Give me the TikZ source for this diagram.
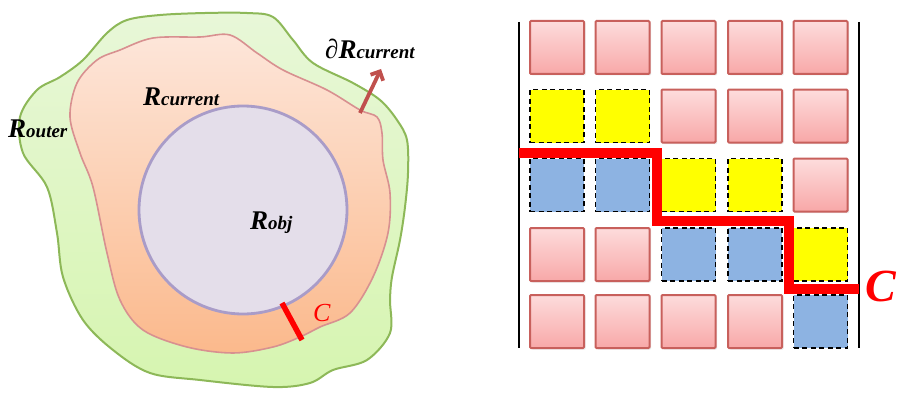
\documentclass[tikz,border=0pt]{standalone}
\usepackage{fontspec}
\setmainfont{Liberation Serif}
\usetikzlibrary{arrows.meta,shadows}
\definecolor{grnline}{HTML}{8DB858}
\definecolor{grntop}{HTML}{E8F7D8}
\definecolor{grnbot}{HTML}{D6F5B0}
\definecolor{pkline}{HTML}{D89090}
\definecolor{pktop}{HTML}{FDE6DA}
\definecolor{pkbot}{HTML}{FBB98C}
\definecolor{objfill}{HTML}{E4DEEA}
\definecolor{objline}{HTML}{A99CC8}
\definecolor{arrowred}{HTML}{C0504D}
\definecolor{sqline}{HTML}{C8605C}
\definecolor{sqtop}{HTML}{FDDCDC}
\definecolor{sqbot}{HTML}{F8A8A8}
\definecolor{sqyel}{HTML}{FFFF00}
\definecolor{sqblue}{HTML}{8DB3E2}
\definecolor{cred}{HTML}{FF0000}
\tikzset{
  lbl/.style={anchor=base west, inner sep=0pt, font=\bfseries\itshape},
  pinkbox/.style={minimum width=54pt, minimum height=53pt, inner sep=0pt, rounded corners=1pt,
     draw=sqline, line width=2pt, top color=sqtop, bottom color=sqbot,
     drop shadow={opacity=0.18, shadow xshift=1.5pt, shadow yshift=-1.5pt}},
  yelbox/.style={minimum width=54pt, minimum height=53pt, inner sep=0pt,
     draw=black, line width=1.8pt, dash pattern=on 5pt off 3.5pt, fill=sqyel},
  bluebox/.style={minimum width=54pt, minimum height=53pt, inner sep=0pt,
     draw=black, line width=1.8pt, dash pattern=on 5pt off 3.5pt, fill=sqblue},
}
\newcommand{\Rsub}[1]{{\fontsize{27}{27}\selectfont R}{\fontsize{19}{19}\selectfont #1}}
\begin{document}
\begin{tikzpicture}[x=1pt,y=-1pt]
\useasboundingbox (0,0) rectangle (897,396);
% outer region
\path[draw=grnline, line width=2pt, top color=grntop, bottom color=grnbot]
  plot[smooth cycle, tension=0.55] coordinates {
  (127,20) (160,15) (205,13) (247,13) (273,17) (293,40) (313,63) (353,83) (380,100)
  (397,120) (407,140) (408,173) (405,207) (400,240) (392,277) (390,300) (390,333)
  (367,360) (333,370) (310,383) (273,387) (200,380) (150,373) (113,350) (83,320)
  (63,277) (57,233) (47,187) (23,153) (20,117) (37,90) (60,77) (83,60) (107,33)};
% current region
\path[draw=pkline, line width=1.6pt, top color=pktop, bottom color=pkbot]
  plot[smooth cycle, tension=0.55] coordinates {
  (97,60) (120,50) (153,38) (200,37) (230,35) (257,53) (283,70) (327,90) (360,110)
  (377,117) (382,133) (383,160) (390,193) (388,233) (373,277) (350,313) (320,327)
  (300,337) (273,347) (233,353) (187,347) (143,330) (120,300) (107,253) (93,187)
  (80,153) (70,117) (77,83)};
% object
\node[circle, minimum size=208pt, inner sep=0pt, draw=objline, line width=2.8pt, fill=objfill] (obj) at (243,210) {};
% boundary cut C
\coordinate (c1) at (282,303);
\coordinate (c2) at (302,340);
\draw[cred, line width=5.5pt] (c1) -- (c2);
% outward arrow
\coordinate (a1) at (360,113);
\coordinate (a2) at (381,69);
\draw[arrowred, line width=3.8pt, -{Straight Barb[length=7pt,width=14pt]}] (a1) -- (a2);
% labels
\node[lbl] (router) at (8,137) {\Rsub{outer}};
\node[lbl] (rcur) at (143,105) {\Rsub{current}};
\node[lbl] (robj) at (250,229) {\Rsub{obj}};
\node[lbl] (drcur) at (325,59) {{\fontsize{27}{27}\selectfont\mdseries\itshape ∂}\Rsub{current}};
\node[anchor=base west, inner sep=0pt, text=cred, font=\itshape\fontsize{26}{26}\selectfont] (cleft) at (313,321) {C};

% right figure: walls
\coordinate (wl1) at (519,22);
\coordinate (wl2) at (519,348);
\coordinate (wr1) at (859,22);
\coordinate (wr2) at (859,348);
\draw[black, line width=1.6pt] (wl1) -- (wl2);
\draw[black, line width=1.2pt] (wr1) -- (wr2);
% squares
\def\cA{557} \def\cB{622.5} \def\cC{688.5} \def\cD{755} \def\cE{820.5}
\def\rA{47.5} \def\rB{116} \def\rC{185} \def\rD{254.5} \def\rE{321.5}
% row 1
\node[pinkbox] (s11) at (\cA,\rA) {};
\node[pinkbox] (s12) at (\cB,\rA) {};
\node[pinkbox] (s13) at (\cC,\rA) {};
\node[pinkbox] (s14) at (\cD,\rA) {};
\node[pinkbox] (s15) at (\cE,\rA) {};
% row 2
\node[yelbox] (s21) at (\cA,\rB) {};
\node[yelbox] (s22) at (\cB,\rB) {};
\node[pinkbox] (s23) at (\cC,\rB) {};
\node[pinkbox] (s24) at (\cD,\rB) {};
\node[pinkbox] (s25) at (\cE,\rB) {};
% row 3
\node[bluebox] (s31) at (\cA,\rC) {};
\node[bluebox] (s32) at (\cB,\rC) {};
\node[yelbox] (s33) at (\cC,\rC) {};
\node[yelbox] (s34) at (\cD,\rC) {};
\node[pinkbox] (s35) at (\cE,\rC) {};
% row 4
\node[pinkbox] (s41) at (\cA,\rD) {};
\node[pinkbox] (s42) at (\cB,\rD) {};
\node[bluebox] (s43) at (\cC,\rD) {};
\node[bluebox] (s44) at (\cD,\rD) {};
\node[yelbox] (s45) at (\cE,\rD) {};
% row 5
\node[pinkbox] (s51) at (\cA,\rE) {};
\node[pinkbox] (s52) at (\cB,\rE) {};
\node[pinkbox] (s53) at (\cC,\rE) {};
\node[pinkbox] (s54) at (\cD,\rE) {};
\node[bluebox] (s55) at (\cE,\rE) {};
% cut path
\coordinate (p0) at (519,153);
\coordinate (p1) at (657,153);
\coordinate (p2) at (657,221);
\coordinate (p3) at (789,221);
\coordinate (p4) at (789,289);
\coordinate (p5) at (859,289);
\draw[cred, line width=9.5pt, line join=miter] (p0) -- (p1) -- (p2) -- (p3) -- (p4) -- (p5);
\node[anchor=base west, inner sep=0pt, text=cred, font=\bfseries\itshape\fontsize{46}{46}\selectfont] (cright) at (865,301) {C};
\end{tikzpicture}
\end{document}
